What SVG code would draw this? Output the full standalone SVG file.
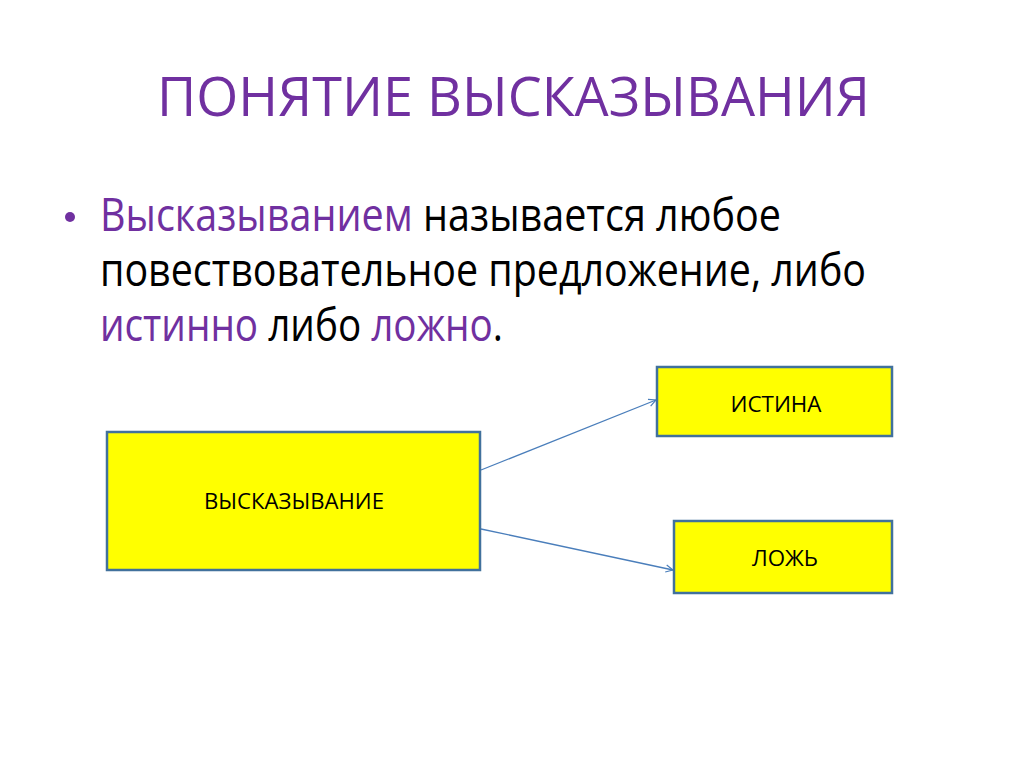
<svg xmlns="http://www.w3.org/2000/svg" width="1024" height="767" viewBox="0 0 1024 767">
<defs>
<style>
.t{font-family:"Open Sans","Noto Sans","Liberation Sans",sans-serif;}
.p{fill:#7030a0;}
.k{fill:#000;}
.box{fill:#ffff00;stroke:#41719c;stroke-width:2.5;}
.lbl{font-family:"Open Sans","Noto Sans","Liberation Sans",sans-serif;font-size:22px;fill:#000;text-anchor:middle;}
.conn{stroke:#4a7ebb;stroke-width:1.3;fill:none;marker-end:url(#ah);}
</style>
<marker id="ah" viewBox="0 0 10 10" refX="9" refY="5" markerWidth="9" markerHeight="9" orient="auto" markerUnits="userSpaceOnUse">
<path d="M1,1 L9,5 L1,9" fill="none" stroke="#4a7ebb" stroke-width="1.3"/>
</marker>
</defs>
<rect width="1024" height="767" fill="#fff"/>
<g id="title">
<text class="t p" x="157" y="116" font-size="55" textLength="713" lengthAdjust="spacingAndGlyphs">ПОНЯТИЕ ВЫСКАЗЫВАНИЯ</text>
</g>
<g id="body">
<circle cx="70" cy="217" r="5" fill="#7030a0"/>
<text class="t k" x="100" y="231" font-size="46" textLength="681" lengthAdjust="spacingAndGlyphs"><tspan class="p">Высказыванием</tspan> называется любое</text>
<text class="t k" x="100" y="286" font-size="46" textLength="766" lengthAdjust="spacingAndGlyphs">повествовательное предложение, либо</text>
<text class="t k" x="100" y="341" font-size="46" textLength="403" lengthAdjust="spacingAndGlyphs"><tspan class="p">истинно</tspan> либо <tspan class="p">ложно</tspan>.</text>
</g>
<g id="connectors">
<line class="conn" x1="481" y1="470" x2="656" y2="400"/>
<line class="conn" x1="481" y1="529" x2="673" y2="570"/>
</g>
<g id="node-statement">
<rect class="box" x="107" y="432" width="373" height="138"/>
<text class="lbl" x="294" y="509" textLength="180" lengthAdjust="spacingAndGlyphs">ВЫСКАЗЫВАНИЕ</text>
</g>
<g id="node-true">
<rect class="box" x="657" y="367" width="235" height="69"/>
<text class="lbl" x="776" y="412" textLength="91" lengthAdjust="spacingAndGlyphs">ИСТИНА</text>
</g>
<g id="node-false">
<rect class="box" x="674" y="521" width="218" height="72"/>
<text class="lbl" x="785" y="566" textLength="66" lengthAdjust="spacingAndGlyphs">ЛОЖЬ</text>
</g>
</svg>
